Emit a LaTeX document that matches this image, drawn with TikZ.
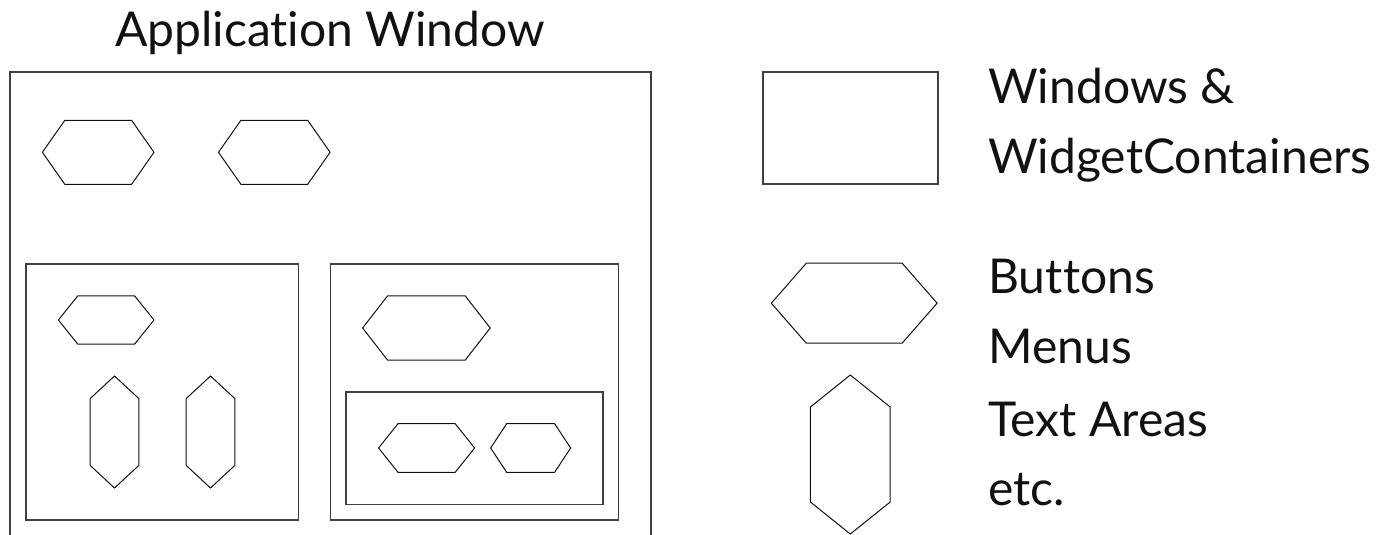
\documentclass[tikz,border=0pt]{standalone}
\usepackage{fontspec}
\setmainfont{Lato}[Ligatures=NoCommon]
\usetikzlibrary{positioning}
\definecolor{frame}{HTML}{404040}
\definecolor{ink}{HTML}{111111}
\newcommand{\hhex}[5]{\draw[hexline] ({#1-#3/2},#2) -- ++(#5,{-#4/2}) -- ++({#3-2*#5},0) -- ++(#5,{#4/2}) -- ++(-#5,{#4/2}) -- ++({-(#3-2*#5)},0) -- cycle;}
\newcommand{\vhex}[5]{\draw[hexline] (#1,{#2-#4/2}) -- ++({#3/2},#5) -- ++(0,{#4-2*#5}) -- ++({-#3/2},#5) -- ++({-#3/2},-#5) -- ++(0,{-(#4-2*#5)}) -- cycle;}

\begin{document}
\begin{tikzpicture}[x=0.5pt,y=-0.5pt,font=\fontsize{24}{29}\selectfont,
  box/.style={draw=frame,line width=0.75pt},
  hexline/.style={draw=ink,line width=0.5pt,line join=miter},
  legend/.style={anchor=base west,inner sep=0pt,text=ink}]
  \useasboundingbox (0,0) rectangle (1392,535);
  \node[anchor=base,inner sep=0pt,text=ink] (title) at (330,47) {Application Window};
  \draw[box] (10,535) -- (10,72) -- (651,72) -- (651,535);
  \draw[box] (26,264) rectangle (298.5,520);
  \draw[box] (330.6,264) rectangle (618.7,520);
  \draw[box] (346.1,392) rectangle (603.1,504.3);
  \hhex{98.2}{152.3}{111.6}{64}{22.4}
  \hhex{274.3}{152.3}{111.6}{64}{22.4}
  \hhex{106.2}{320}{95.6}{48.3}{19.4}
  \vhex{114.5}{432}{48.9}{112}{22.7}
  \vhex{210.5}{432}{48.9}{112}{22.7}
  \hhex{426.4}{328}{127.6}{64.3}{25}
  \hhex{426.6}{448}{96}{48.6}{19.4}
  \hhex{530.65}{448}{80}{48.6}{16}
  \draw[box] (763,72) rectangle (938,184);
  \hhex{854.2}{303.2}{165.8}{80}{35}
  \vhex{850.3}{454.5}{79.8}{159}{32}
  \node[legend] (win) at (988,103.6) {Windows \&};
  \node[legend] (cont) at (988,173) {WidgetContainers};
  \node[legend] (btn) at (988,293) {Buttons};
  \node[legend] (menu) at (988,363) {Menus};
  \node[legend] (area) at (988,436) {Text Areas};
  \node[legend] (etc) at (988,505.6) {etc.};
\end{tikzpicture}
\end{document}
